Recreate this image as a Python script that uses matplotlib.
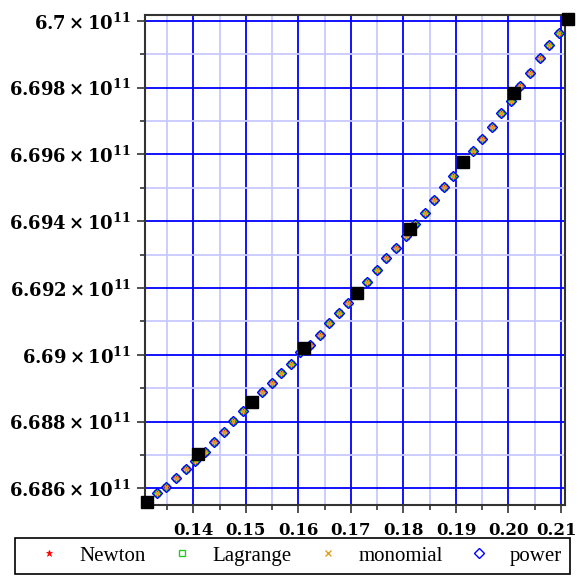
import matplotlib.pyplot as plt
import matplotlib.transforms as mtransforms
from matplotlib.lines import Line2D

plt.rcParams["font.family"] = ["DejaVu Serif"]
plt.rcParams["mathtext.fontset"] = "dejavuserif"

# interpolation nodes (y in units of 1e11)
node_x = [0.13124, 0.14095, 0.15112, 0.16113, 0.17122, 0.18125, 0.19140, 0.20111, 0.21139]
node_y = [6.685605, 6.687032, 6.688598, 6.690196, 6.691860, 6.693757, 6.695762, 6.697845, 6.700042]

# points where the interpolants were evaluated (all four methods agree)
eval_x = [
    0.13124, 0.13306, 0.13488, 0.13670, 0.13853, 0.14035, 0.14217, 0.14399, 0.14581,
    0.14763, 0.14946, 0.15128, 0.15310, 0.15492, 0.15674, 0.15856, 0.16039, 0.16221,
    0.16403, 0.16585, 0.16767, 0.16949, 0.17132, 0.17314, 0.17496, 0.17678, 0.17860,
    0.18042, 0.18225, 0.18407, 0.18589, 0.18771, 0.18953, 0.19135, 0.19317, 0.19500,
    0.19682, 0.19864, 0.20046, 0.20228, 0.20410, 0.20593, 0.20775, 0.20957, 0.21139,
]
eval_y = [
    6.685605, 6.68586, 6.68605, 6.68631, 6.68658, 6.68683, 6.68710, 6.68740, 6.68770,
    6.68802, 6.68832, 6.68857, 6.68890, 6.68917, 6.68947, 6.68973, 6.69009, 6.69029,
    6.69059, 6.69094, 6.69124, 6.69154, 6.69188, 6.69218, 6.69254, 6.69289, 6.69321,
    6.69357, 6.69392, 6.69425, 6.69463, 6.69501, 6.69535, 6.69578, 6.69611, 6.69646,
    6.69681, 6.69725, 6.69761, 6.69804, 6.69844, 6.69888, 6.69927, 6.69962, 6.700042,
]

methods = ["Newton", "Lagrange", "monomial", "power"]
method_styles = {
    "Newton": dict(marker="*", color="#ff0000", ms=5, mfc="#ff0000", mew=0.5),
    "Lagrange": dict(marker="s", color="#22cc22", ms=4, mfc="none", mew=1.0),
    "monomial": dict(marker="x", color="#e0a020", ms=5, mew=1.0),
    "power": dict(marker="D", color="#0000ff", ms=4.8, mfc="none", mew=1.0),
}

x_ticks = [0.14, 0.15, 0.16, 0.17, 0.18, 0.19, 0.20, 0.21]
x_labels = ["0.14", "0.15", "0.16", "0.17", "0.18", "0.19", "0.20", "0.21"]
x_minor = [0.135, 0.145, 0.155, 0.165, 0.175, 0.185, 0.195, 0.205]
y_ticks = [6.686, 6.688, 6.690, 6.692, 6.694, 6.696, 6.698, 6.700]
y_labels = ["6.686", "6.688", "6.69", "6.692", "6.694", "6.696", "6.698", "6.7"]
y_minor = [6.687, 6.689, 6.691, 6.693, 6.695, 6.697, 6.699]

W, H = 581, 576
fig = plt.figure(figsize=(W / 100, H / 100), dpi=100)
ax = fig.add_axes([145 / W, 1 - 505 / H, 420 / W, 490 / H])

for name in methods:
    ax.plot(eval_x, eval_y, ls="none", clip_on=False, zorder=3, **method_styles[name])
ax.plot(node_x, node_y, ls="none", marker="s", ms=8, color="black", clip_on=False, zorder=4)

ax.set_xlim(0.13081, 0.21076)
ax.set_ylim(6.685506, 6.700171)

ax.set_xticks(x_ticks, labels=x_labels)
ax.set_xticks(x_minor, minor=True)
ax.set_yticks(y_ticks, labels=[r"$\mathbf{%s\times10^{11}}$" % s for s in y_labels])
ax.set_yticks(y_minor, minor=True)

ax.tick_params(which="major", direction="out", length=6, width=1.2, color="#333333", labelsize=13)
ax.tick_params(which="minor", direction="out", length=3.5, width=1.2, color="#333333")
ax.tick_params(axis="x", pad=6)
ax.tick_params(axis="y", pad=4)
plt.setp(ax.get_xticklabels(), fontweight="bold", fontsize=12)

# last x label sits at the figure edge, nudge it left a little
last = ax.get_xticklabels()[-1]
last.set_transform(last.get_transform() + mtransforms.ScaledTranslation(-0.05, 0, fig.dpi_scale_trans))

ax.grid(which="major", color="#0000ff", lw=1.3)
ax.grid(which="minor", color="#c8c8ff", lw=1.3)
ax.set_axisbelow(True)
for sp in ax.spines.values():
    sp.set_linewidth(1.5)
    sp.set_color("#333333")

handles = [Line2D([], [], ls="none", **method_styles[name]) for name in methods]
leg = fig.legend(
    handles, methods, loc="lower left",
    bbox_to_anchor=(15 / W, 2 / H, 555 / W, 30 / H), mode="expand", ncol=4,
    borderaxespad=0, fancybox=False, framealpha=1, edgecolor="black",
    handlelength=2.46, handletextpad=0.21,
    prop={"family": "Liberation Serif", "size": 15},
)
leg.get_frame().set_linewidth(1.2)

fig.savefig("out.png", dpi=100)
